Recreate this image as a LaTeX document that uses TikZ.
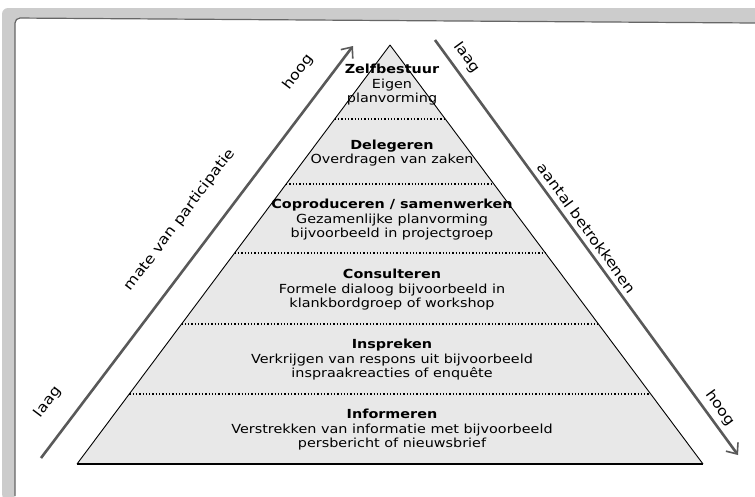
\documentclass[tikz,border=0pt]{standalone}
\usepackage{fontspec}
\setmainfont[FakeStretch=1.15]{DejaVu Sans}
\usetikzlibrary{arrows.meta,calc}
\begin{document}
\begin{tikzpicture}[x=1pt,y=-1pt,
  layer/.style={align=center, inner sep=0pt, font=\fontsize{12.5}{14.5}\selectfont},
  scalearrow/.style={line width=2.6pt, draw=black!65, -{Straight Barb[length=9pt,width=15pt,line width=1.6pt]}},
  sidelabel/.style={font=\fontsize{14}{16}\selectfont, inner sep=0pt},
  sepline/.style={dotted, line width=1.3pt},
]
\useasboundingbox (0,0) rectangle (755,496);
% scanned frame
\fill[black!20, rounded corners=6pt] (2,500) -- (2,8) -- (760,8) -- (760,23) -- (15,18) -- (15,500) -- cycle;
\draw[black!60, line width=1.2pt, rounded corners=5pt] (15,496) -- (15,18) -- (755,23);

% pyramid
\coordinate (apex) at (390,45);
\coordinate (bl) at (77,464);
\coordinate (br) at (703,464);
\fill[black!9] (apex) -- (br) -- (bl) -- cycle;
\foreach \t in {0.8234,0.6683,0.5036,0.3341,0.1671}{
  \draw[sepline] ($(bl)!\t!(apex)$) -- ($(br)!\t!(apex)$);
}
\draw[line width=0.9pt] (apex) -- (br);
\draw[line width=0.9pt] (apex) -- (bl);
\draw[line width=1.5pt] (bl) -- (br);

% layer texts
\node[layer] (zelf) at (392,85) {\textbf{Zelfbestuur}\\Eigen\\planvorming};
\node[layer] (dele) at (392,153) {\textbf{Delegeren}\\Overdragen van zaken};
\node[layer] (copr) at (392,220) {\textbf{Coproduceren / samenwerken}\\Gezamenlijke planvorming\\bijvoorbeeld in projectgroep};
\node[layer] (cons) at (392,290) {\textbf{Consulteren}\\Formele dialoog bijvoorbeeld in\\klankbordgroep of workshop};
\node[layer] (insp) at (392,360) {\textbf{Inspreken}\\Verkrijgen van respons uit bijvoorbeeld\\inspraakreacties of enquête};
\node[layer] (info) at (392,430) {\textbf{Informeren}\\Verstrekken van informatie met bijvoorbeeld\\persbericht of nieuwsbrief};

% arrows
\coordinate (lt) at (41,458);
\coordinate (lh) at (353,46);
\draw[scalearrow] (lt) -- (lh);
\coordinate (rt) at (435,40);
\coordinate (rh) at (738,455);
\draw[scalearrow] (rt) -- (rh);

% side labels
\node[sidelabel, rotate=53] (llow) at (48,402) {laag};
\node[sidelabel, rotate=53] (lmid) at (180,220) {mate van participatie};
\node[sidelabel, rotate=53] (lhigh) at (298,72) {hoog};
\node[sidelabel, rotate=-54] (rlow) at (467,58) {laag};
\node[sidelabel, rotate=-54] (rmid) at (587,228) {aantal betrokkenen};
\node[sidelabel, rotate=-54] (rhigh) at (720,408) {hoog};
\end{tikzpicture}
\end{document}
